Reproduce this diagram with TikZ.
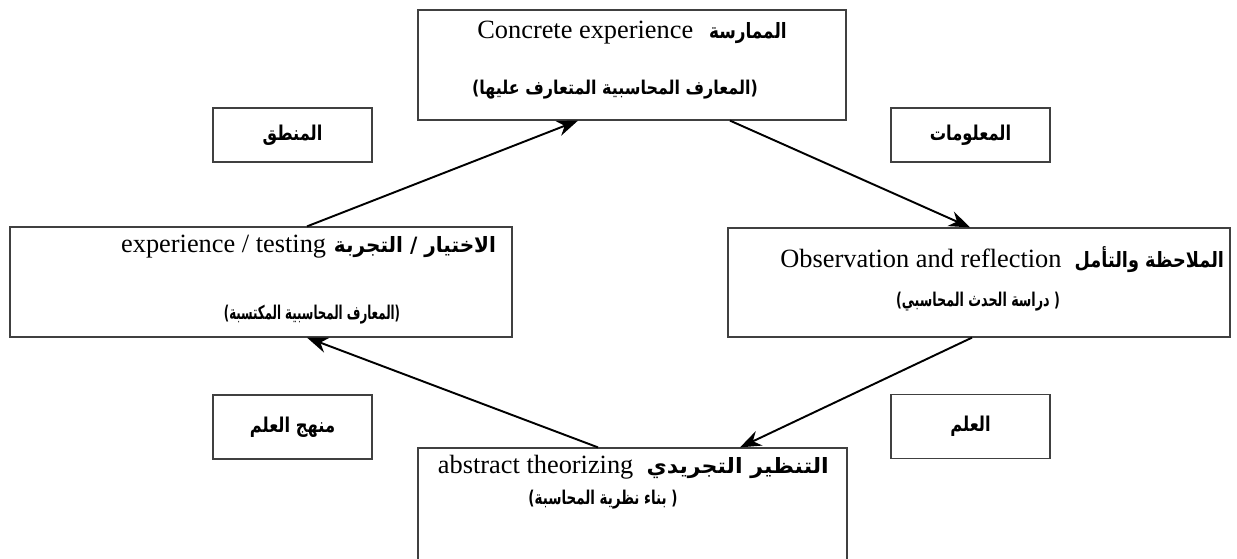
\documentclass[tikz,border=0pt]{standalone}
\usepackage{fontspec}
\setmainfont{Liberation Serif}
\newfontfamily\arabicfont[Script=Arabic,Scale=0.8]{DejaVu Sans}
\TeXXeTstate=1
\usetikzlibrary{positioning,arrows.meta}
\newcommand{\artxt}[2][0.8]{\scalebox{#1}[1]{\arabicfont\bfseries\beginR #2\endR}}

\begin{document}
\begin{tikzpicture}[->,>={Stealth[length=12pt,width=9pt]},line width=1.1pt,
  box/.style={draw=black!75,line width=0.7pt,rectangle,inner sep=0pt},
  tag/.style={box,minimum width=3.18cm,font=\fontsize{14.5}{17}\selectfont},
  lbl/.style={inner sep=0pt,font=\fontsize{15}{18}\selectfont},
  sublbl/.style={inner sep=0pt,font=\fontsize{13.5}{16}\selectfont}]

    \useasboundingbox (0,0) rectangle (24.74,11.16);

    % The four stages
	\node [box,minimum width=8.56cm,minimum height=2.2cm] at (12.64,9.86) (concrete) {};
	\node [box,minimum width=10.04cm,minimum height=2.2cm] at (5.22,5.52) (testing) {};
	\node [box,minimum width=10.04cm,minimum height=2.18cm] at (19.58,5.51) (reflection) {};
	\node [box,minimum width=8.58cm,minimum height=2.6cm] at (12.65,0.9) (abstract) {};

	% Texts of the stages
	\node [lbl] at (12.64,10.5) (concrete1) {Concrete experience\hspace{0.6em}\artxt{الممارسة}};
	\node [sublbl] at (12.3,9.36) (concrete2) {\artxt[0.84]{(المعارف المحاسبية المتعارف عليها)}};
	\node [lbl,anchor=east] at (9.94,6.22) (testing1) {experience / testing\hspace{0.3em}\artxt[0.95]{الاختيار / التجربة}};
	\node [sublbl] at (6.24,4.86) (testing2) {\artxt[0.62]{(المعارف المحاسبية المكتسبة)}};
	\node [lbl,anchor=east] at (24.5,5.96) (reflection1) {Observation and reflection\hspace{0.5em}\artxt[0.84]{الملاحظة والتأمل}};
	\node [sublbl] at (19.56,5.12) (reflection2) {\artxt[0.67]{( دراسة الحدث المحاسبي)}};
	\node [lbl,anchor=west] at (8.74,1.82) (abstract1) {abstract theorizing\hspace{0.5em}\artxt[1.05]{التنظير التجريدي}};
	\node [sublbl] at (12.06,1.16) (abstract2) {\artxt[0.71]{( بناء نظرية المحاسبة)}};

	% Side boxes
	\node [tag,minimum height=1.08cm] at (5.85,8.46) (logic) {\artxt{المنطق}};
	\node [tag,minimum height=1.08cm] at (19.41,8.46) (info) {\artxt{المعلومات}};
	\node [tag,minimum height=1.28cm] at (5.85,2.62) (method) {\artxt{منهج العلم}};
	\node [tag,minimum height=1.28cm] at (19.41,2.63) (science) {\artxt{العلم}};

	% Cycle
	\draw ([xshift=0.92cm]testing.north) -- ([xshift=-1.08cm]concrete.south);
	\draw ([xshift=1.96cm]concrete.south) -- ([xshift=-0.18cm]reflection.north);
	\draw ([xshift=-0.14cm]reflection.south) -- ([xshift=2.15cm]abstract.north);
	\draw ([xshift=-0.69cm]abstract.north) -- ([xshift=0.92cm]testing.south);

\end{tikzpicture}
\end{document}
